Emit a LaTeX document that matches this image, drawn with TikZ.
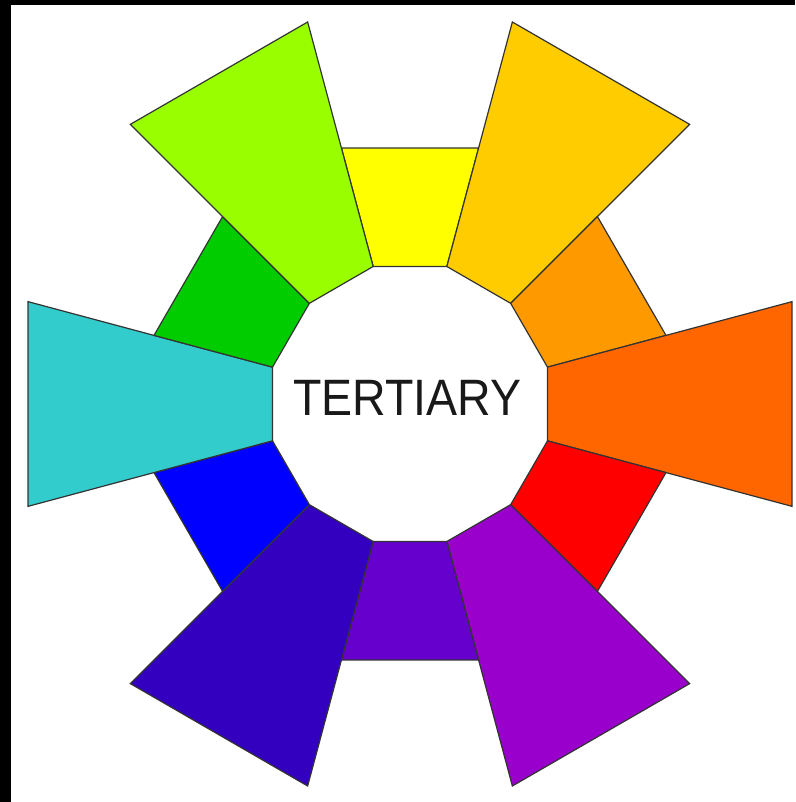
\documentclass[tikz,border=0pt]{standalone}
\usepackage{fontspec}
\setmainfont{Liberation Sans}
\begin{document}
\begin{tikzpicture}[x=1pt,y=1pt,
  seg/.style={draw=black!80, line width=1.2pt, line join=miter},
  titletext/.style={text=black!90, font=\fontsize{46.5}{46.5}\selectfont, inner sep=0pt}]
\useasboundingbox (0,0) rectangle (795,802);
\fill[black] (0,0) rectangle (795,802);
\fill[white] (11,0) rectangle (795,797);
\begin{scope}[shift={(410,398)}]
\foreach \ang/\r/\col in {90/265.03/FFFF00, 60/395.47/FFCC00, 30/265.03/FF9900,
    0/395.47/FF6600, -30/265.03/FF0000, -60/395.47/9900CC, -90/265.03/6600CC,
    -120/395.47/3300C0, -150/265.03/0000FF, 180/395.47/33CCCC, 150/265.03/00CC00,
    120/395.47/99FF00}{
  \definecolor{segcol}{HTML}{\col}
  \filldraw[seg, fill=segcol] (\ang-15:142.35) -- (\ang+15:142.35) -- (\ang+15:\r) -- (\ang-15:\r) -- cycle;
}
\end{scope}
\node[titletext] (title) at (407.5,404.5) {\scalebox{1}[1.1]{TERTIARY}};
\end{tikzpicture}
\end{document}
